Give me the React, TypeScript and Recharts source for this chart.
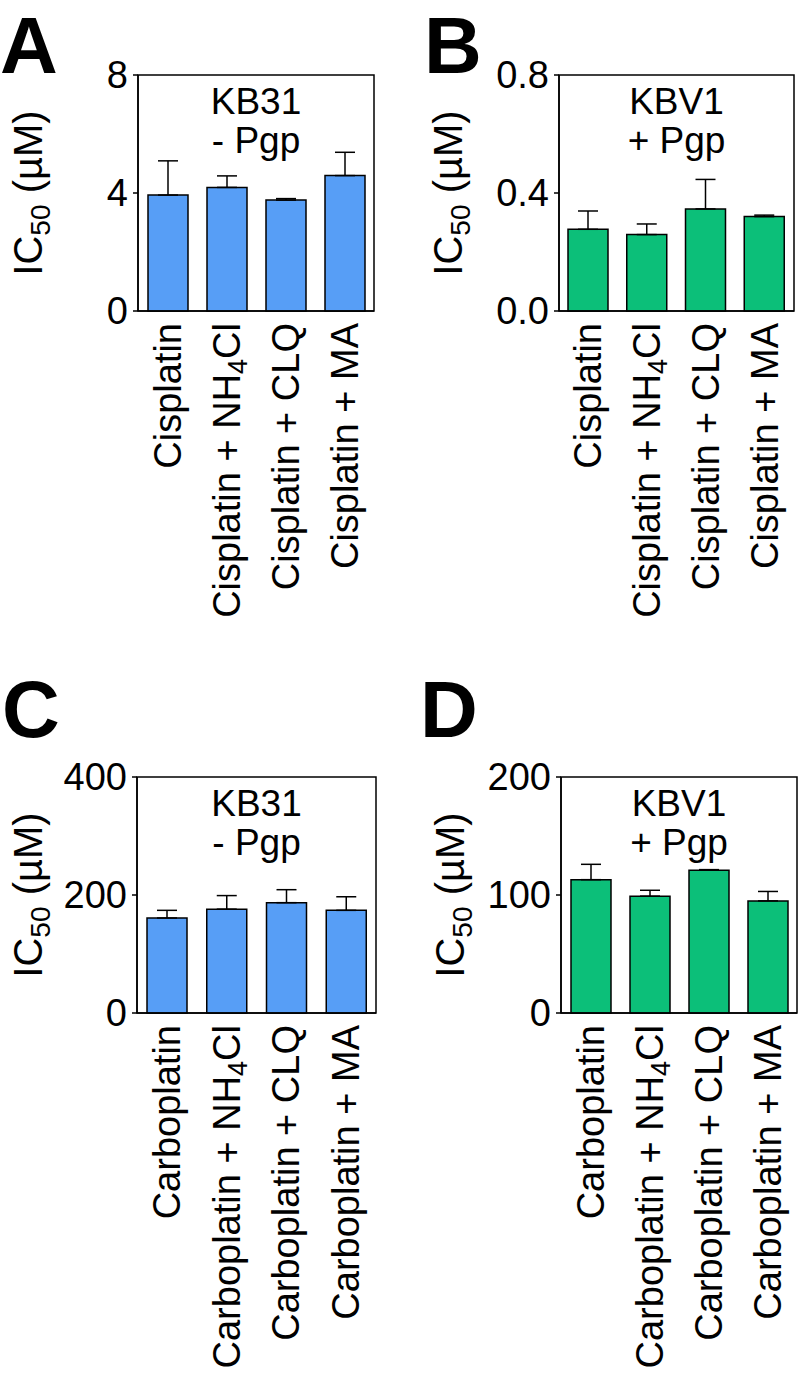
import React from 'react';
import { BarChart, Bar, XAxis, YAxis, ErrorBar, ReferenceArea } from 'recharts';

const FONT = '"Liberation Sans", Arial, Helvetica, sans-serif';
const BLUE = '#579EF6';
const GREEN = '#0CBF79';

// categories
const cisplatinLabels = ['Cisplatin', 'Cisplatin + NH4Cl', 'Cisplatin + CLQ', 'Cisplatin + MA'];
const carboplatinLabels = ['Carboplatin', 'Carboplatin + NH4Cl', 'Carboplatin + CLQ', 'Carboplatin + MA'];

// IC50 means and upper SD
const kb31CisMean = [3.93, 4.19, 3.76, 4.59];
const kb31CisErr = [1.16, 0.39, 0.05, 0.79];
const kbv1CisMean = [0.277, 0.259, 0.346, 0.32];
const kbv1CisErr = [0.062, 0.036, 0.1, 0.005];
const kb31CarboMean = [161, 176, 187, 174];
const kb31CarboErr = [13, 23, 22, 23];
const kbv1CarboMean = [113, 99, 121, 95];
const kbv1CarboErr = [13, 5, 0.5, 8];

// y ticks
const ticksA = [0, 4, 8];
const ticksB = [0, 0.4, 0.8];
const ticksC = [0, 200, 400];
const ticksD = [0, 100, 200];

const CategoryTick = (props: any) => {
  const { x, y, payload } = props;
  const label = String(payload.value);
  const parts = label.split('NH4Cl');
  return (
    <g transform={`translate(${x},${y}) rotate(-90)`}>
      <text x={0} y={13} textAnchor="end" fontSize={38} fill="#000" fontFamily={FONT}>
        {parts.length > 1 ? (
          <>
            {parts[0]}NH
            <tspan fontSize={27} dy={7}>4</tspan>
            <tspan dy={-7}>Cl</tspan>
            {parts[1]}
          </>
        ) : (
          label
        )}
      </text>
    </g>
  );
};

interface PanelProps {
  left: number;
  top: number;
  width: number;
  height: number;
  margin: { top: number; right: number; bottom: number; left: number };
  yWidth: number;
  xHeight: number;
  labels: string[];
  mean: number[];
  err: number[];
  color: string;
  ticks: number[];
  decimals: number;
  title: [string, string];
  yLabelX: number;
}

function Panel(p: PanelProps) {
  const data = p.labels.map((name, i) => ({ name, value: p.mean[i], err: [0, p.err[i]] }));
  const max = p.ticks[p.ticks.length - 1];
  const plotTop = p.margin.top;
  const plotBottom = p.height - p.margin.bottom - p.xHeight;
  const plotLeft = p.margin.left + p.yWidth;
  const plotRight = p.width - p.margin.right;
  const cx = (plotLeft + plotRight) / 2;
  const cy = (plotTop + plotBottom) / 2;

  const yTitle = () => (
    <text
      transform={`translate(${p.yLabelX},${cy}) rotate(-90)`}
      x={0}
      y={14}
      textAnchor="middle"
      fontSize={40}
      fill="#000"
      fontFamily={FONT}
    >
      IC
      <tspan fontSize={28} dy={8}>50</tspan>
      <tspan dy={-8}> (µM)</tspan>
    </text>
  );

  const plotTitle = () => (
    <text textAnchor="middle" fontSize={37} fill="#000" fontFamily={FONT}>
      <tspan x={cx} y={plotTop + 39}>{p.title[0]}</tspan>
      <tspan x={cx} y={plotTop + 78}>{p.title[1]}</tspan>
    </text>
  );

  return (
    <div style={{ position: 'absolute', left: p.left, top: p.top }}>
      <BarChart width={p.width} height={p.height} data={data} margin={p.margin}>
        <XAxis
          dataKey="name"
          type="category"
          interval={0}
          height={p.xHeight}
          tickLine={false}
          tickSize={0}
          tickMargin={12}
          axisLine={{ stroke: '#000', strokeWidth: 1.5 }}
          tick={<CategoryTick />}
        />
        <YAxis
          type="number"
          domain={[0, max]}
          ticks={p.ticks}
          interval={0}
          width={p.yWidth}
          tickSize={5}
          tickMargin={5}
          tickFormatter={(v: number) => v.toFixed(p.decimals)}
          tick={{ fontSize: 38, fill: '#000', fontFamily: FONT }}
          axisLine={{ stroke: '#000', strokeWidth: 1.5 }}
          tickLine={{ stroke: '#000', strokeWidth: 1.5 }}
          label={yTitle}
        />
        <Bar dataKey="value" fill={p.color} stroke="#000" strokeWidth={1.5} barSize={40} isAnimationActive={false}>
          <ErrorBar dataKey="err" direction="y" width={10} stroke="#000" strokeWidth={1.5} isAnimationActive={false} />
        </Bar>
        <ReferenceArea y1={0} y2={max} fill="none" stroke="#000" strokeWidth={1.5} label={plotTitle} />
      </BarChart>
    </div>
  );
}

export default function App() {
  return (
    <div style={{ position: 'absolute', left: 0, top: 0, width: 800, height: 1381, background: '#fff', overflow: 'hidden' }}>
      <Panel
        left={0}
        top={0}
        width={400}
        height={640}
        margin={{ top: 75, right: 26, bottom: 0, left: 0 }}
        yWidth={138}
        xHeight={329}
        labels={cisplatinLabels}
        mean={kb31CisMean}
        err={kb31CisErr}
        color={BLUE}
        ticks={ticksA}
        decimals={0}
        title={['KB31', '- Pgp']}
        yLabelX={28}
      />
      <Panel
        left={400}
        top={0}
        width={400}
        height={640}
        margin={{ top: 75, right: 6, bottom: 0, left: 0 }}
        yWidth={159}
        xHeight={329}
        labels={cisplatinLabels}
        mean={kbv1CisMean}
        err={kbv1CisErr}
        color={GREEN}
        ticks={ticksB}
        decimals={1}
        title={['KBV1', '+ Pgp']}
        yLabelX={48}
      />
      <Panel
        left={0}
        top={680}
        width={400}
        height={701}
        margin={{ top: 97, right: 24, bottom: 0, left: 0 }}
        yWidth={137}
        xHeight={368}
        labels={carboplatinLabels}
        mean={kb31CarboMean}
        err={kb31CarboErr}
        color={BLUE}
        ticks={ticksC}
        decimals={0}
        title={['KB31', '- Pgp']}
        yLabelX={28}
      />
      <Panel
        left={400}
        top={680}
        width={400}
        height={701}
        margin={{ top: 97, right: 3, bottom: 0, left: 0 }}
        yWidth={161}
        xHeight={368}
        labels={carboplatinLabels}
        mean={kbv1CarboMean}
        err={kbv1CarboErr}
        color={GREEN}
        ticks={ticksD}
        decimals={0}
        title={['KBV1', '+ Pgp']}
        yLabelX={50}
      />
      <svg width={800} height={1381} style={{ position: 'absolute', left: 0, top: 0, pointerEvents: 'none' }}>
        <g fontFamily={FONT} fontWeight="bold" fontSize={80} fill="#000">
          <text x={0} y={73}>A</text>
          <text x={424} y={73}>B</text>
          <text x={2} y={737}>C</text>
          <text x={420} y={737}>D</text>
        </g>
      </svg>
    </div>
  );
}
